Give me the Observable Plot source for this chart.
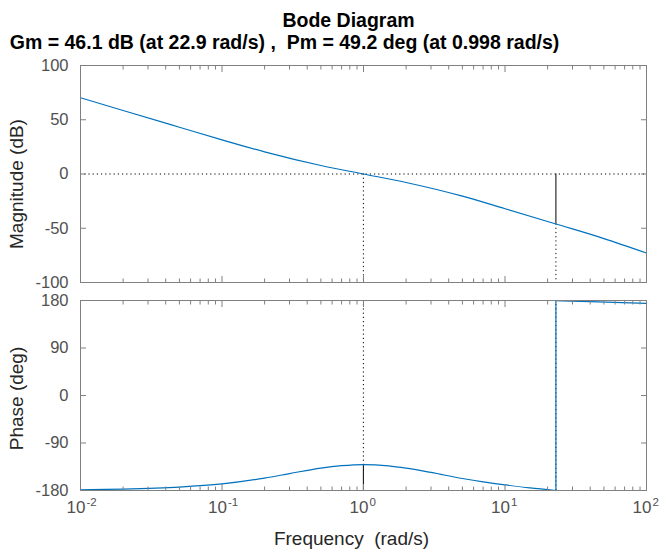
<!DOCTYPE html>
<html>
<head>
<meta charset="utf-8">
<script src="https://cdn.jsdelivr.net/npm/d3@7"></script>
<script src="https://cdn.jsdelivr.net/npm/@observablehq/plot@0.6"></script>
<style>
  html, body { margin: 0; padding: 0; background: #fff; }
  #chart { width: 662px; height: 553px; overflow: hidden; }
  #chart svg { display: block; }
</style>
</head>
<body>
<div id="chart"></div>
<script>
// ---- data ----
const magFreq = [0.01, 0.02, 0.05, 0.1, 0.2, 0.5, 1, 2, 5, 10, 22.9, 50, 100];
const magDb   = [70.3, 58.5, 43.1, 31.5, 20.4, 7.8, 0, -7.8, -20.4, -32.0, -46.1, -59.5, -72.8];

const phaseFreqLow = [0.01, 0.02, 0.05, 0.1, 0.2, 0.3, 0.5, 0.7, 1, 1.5, 2, 3, 5, 7, 10, 15, 22.9];
const phaseDegLow  = [-178.7, -177.4, -173.6, -167.6, -156.5, -148, -137.5, -133, -130.8, -133.3, -137.6, -145.8, -157.2, -163.6, -169.3, -175.2, -180];
const phaseFreqHigh = [22.9, 40, 100];
const phaseDegHigh  = [179.8, 178.0, 174.6];

const gmDb = 46.1, gmFreq = 22.9, pmDeg = 49.2, pmFreq = 0.998;

const magTicks = [-100, -50, 0, 50, 100];
const phaseTicks = [-180, -90, 0, 90, 180];
const decadeTicks = [0.01, 0.1, 1, 10, 100];
const decadeExponents = ["-2", "-1", "0", "1", "2"];
const minorMultipliers = [2, 3, 4, 5, 6, 7, 8, 9];

const titleText = "Bode Diagram";
const marginText = `Gm = ${gmDb} dB (at ${gmFreq} rad/s) , \u00a0Pm = ${pmDeg} deg (at ${pmFreq} rad/s)`;
const xLabel = "Frequency \u00a0(rad/s)";
const magLabel = "Magnitude (dB)";
const phaseLabel = "Phase (deg)";

// ---- styling ----
const font = "'Liberation Sans', Arial, Helvetica, sans-serif";
const axisGray = "#808080";
const tickLabelGray = "#505050";
const labelColor = "#262626";
const blue = "#0072bd";
const dotted = "1.2,3";

const magDomain = [magTicks[0], magTicks[magTicks.length - 1]];
const phaseDomain = [phaseTicks[0], phaseTicks[phaseTicks.length - 1]];
const minorTicks = decadeTicks.slice(0, -1).flatMap(d => minorMultipliers.map(m => +(d * m).toPrecision(3)));

const magData = magFreq.map((f, i) => ({f, v: magDb[i]}));
const phaseLow = phaseFreqLow.map((f, i) => ({f, v: phaseDegLow[i]}));
const phaseHigh = phaseFreqHigh.map((f, i) => ({f, v: phaseDegHigh[i]}));

function frameAxes(yTicks) {
  return [
    Plot.frame({stroke: axisGray}),
    Plot.axisY(yTicks, {anchor: "right", tickSize: -6, stroke: axisGray, fill: "none", label: null}),
    Plot.axisX(decadeTicks, {anchor: "bottom", tickSize: -6, stroke: axisGray, fill: "none", label: null}),
    Plot.axisX(minorTicks, {anchor: "bottom", tickSize: -3.5, stroke: axisGray, fill: "none", label: null}),
    Plot.axisX(decadeTicks, {anchor: "top", tickSize: -6, stroke: axisGray, fill: "none", label: null}),
    Plot.axisX(minorTicks, {anchor: "top", tickSize: -3.5, stroke: axisGray, fill: "none", label: null}),
    Plot.axisY(yTicks, {anchor: "left", tickSize: -6, tickPadding: 18, stroke: axisGray, fill: tickLabelGray,
      fontSize: 16.5, label: null, tickFormat: d => String(d)})
  ];
}

const topPlot = Plot.plot({
  width: 662, height: 285,
  marginTop: 65, marginBottom: 3, marginLeft: 80, marginRight: 16,
  style: {fontFamily: font, background: "white", overflow: "visible"},
  x: {type: "log", domain: [decadeTicks[0], decadeTicks[decadeTicks.length - 1]]},
  y: {domain: magDomain},
  marks: [
    Plot.ruleY([0], {stroke: "black", strokeDasharray: dotted}),
    Plot.ruleX([pmFreq], {y1: 0, y2: magDomain[0], stroke: "black", strokeDasharray: dotted}),
    Plot.ruleX([gmFreq], {y1: -gmDb, y2: magDomain[0], stroke: "black", strokeDasharray: dotted}),
    Plot.ruleX([gmFreq], {y1: 0, y2: -gmDb, stroke: "black"}),
    Plot.line(magData, {x: "f", y: "v", stroke: blue, strokeWidth: 1.2, curve: "monotone-x"}),
    ...frameAxes(magTicks),
    Plot.text([magLabel], {frameAnchor: "left", textAnchor: "middle", lineAnchor: "middle", rotate: -90,
      dx: -64, dy: 10, fontSize: 19, fill: labelColor}),
    Plot.text([titleText], {frameAnchor: "top", textAnchor: "middle", lineAnchor: "bottom", dx: -15, dy: -38.2,
      fontSize: 19.5, fontWeight: "bold", fill: "black"}),
    Plot.text([marginText], {frameAnchor: "top-left", textAnchor: "start", lineAnchor: "bottom", dx: -70.7, dy: -16.5,
      fontSize: 19.5, fontWeight: "bold", fill: "black"})
  ]
});

const bottomPlot = Plot.plot({
  width: 662, height: 268,
  marginTop: 15, marginBottom: 63, marginLeft: 80, marginRight: 16,
  style: {fontFamily: font, background: "white", overflow: "visible"},
  x: {type: "log", domain: [decadeTicks[0], decadeTicks[decadeTicks.length - 1]]},
  y: {domain: phaseDomain},
  marks: [
    Plot.ruleY([phaseDomain[0]], {stroke: "black", strokeDasharray: dotted}),
    Plot.ruleX([pmFreq], {y1: phaseDomain[1], y2: pmDeg - 180, stroke: "black", strokeDasharray: dotted}),
    Plot.ruleX([pmFreq], {y1: pmDeg - 180, y2: phaseDomain[0], stroke: "black"}),
    Plot.ruleX([gmFreq], {y1: phaseDomain[0], y2: phaseDomain[1], stroke: "black", strokeDasharray: dotted}),
    Plot.line(phaseLow, {x: "f", y: "v", stroke: blue, strokeWidth: 1.2, curve: "monotone-x"}),
    Plot.line(phaseHigh, {x: "f", y: "v", stroke: blue, strokeWidth: 1.2, curve: "monotone-x"}),
    Plot.ruleX([gmFreq], {y1: phaseDegLow[phaseDegLow.length - 1], y2: phaseDegHigh[0], stroke: blue, strokeWidth: 1.2}),
    ...frameAxes(phaseTicks),
    Plot.text(decadeTicks, {x: d => d, frameAnchor: "bottom", text: () => "10", textAnchor: "end", lineAnchor: "bottom",
      dx: 5, dy: 22, fontSize: 17, fill: tickLabelGray}),
    Plot.text(decadeTicks, {x: d => d, frameAnchor: "bottom", text: (d, i) => decadeExponents[i], textAnchor: "start", lineAnchor: "bottom",
      dx: 6, dy: 15.5, fontSize: 11.5, fill: tickLabelGray}),
    Plot.text([phaseLabel], {frameAnchor: "left", textAnchor: "middle", lineAnchor: "middle", rotate: -90,
      dx: -64, dy: 3, fontSize: 19, fill: labelColor}),
    Plot.text([xLabel], {frameAnchor: "bottom", textAnchor: "middle", lineAnchor: "bottom", dx: -12, dy: 54, fontSize: 19, fill: labelColor})
  ]
});

const chart = document.getElementById("chart");
chart.appendChild(topPlot);
chart.appendChild(bottomPlot);
</script>
</body>
</html>
